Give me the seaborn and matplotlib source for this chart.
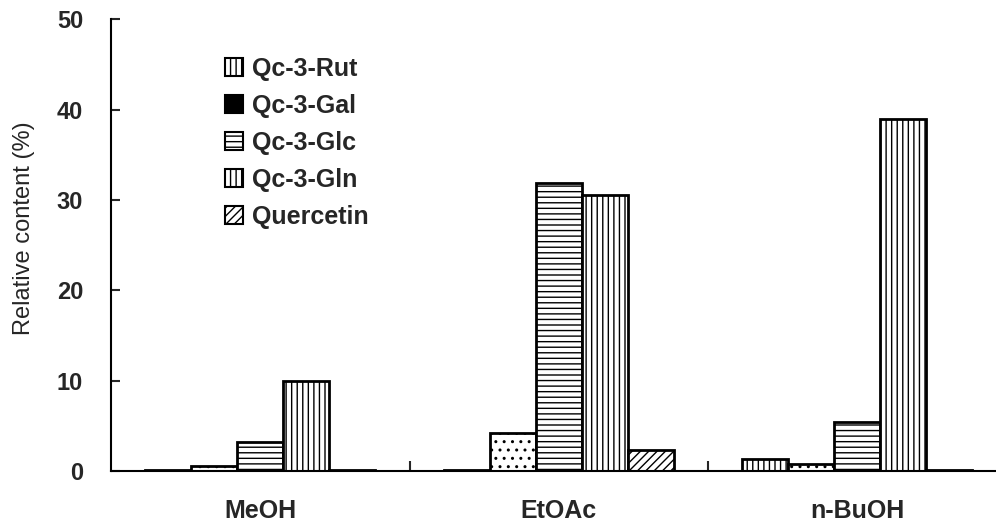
import matplotlib
matplotlib.use("Agg")
import matplotlib.pyplot as plt
from matplotlib.patches import Patch
import seaborn as sns
import pandas as pd

# Solvent fractions and compounds
solvents = ["MeOH", "EtOAc", "n-BuOH"]
compounds = ["Qc-3-Rut", "Qc-3-Gal", "Qc-3-Glc", "Qc-3-Gln", "Quercetin"]

# Relative content (%) per compound, in solvent order
qc3_rut = [0.15, 0.15, 1.3]
qc3_gal = [0.6, 4.2, 0.75]
qc3_glc = [3.2, 31.9, 5.4]
qc3_gln = [10.0, 30.5, 39.0]
quercetin = [0.15, 2.3, 0.15]

y_ticks = [0, 10, 20, 30, 40, 50]

series = {
    "Qc-3-Rut": qc3_rut,
    "Qc-3-Gal": qc3_gal,
    "Qc-3-Glc": qc3_glc,
    "Qc-3-Gln": qc3_gln,
    "Quercetin": quercetin,
}
rows = []
for comp in compounds:
    for solv, val in zip(solvents, series[comp]):
        rows.append({"Solvent": solv, "Compound": comp, "Content": val})
df = pd.DataFrame(rows)

sns.set_theme(style="white")
plt.rcParams["font.family"] = ["Liberation Sans", "DejaVu Sans"]
plt.rcParams["hatch.linewidth"] = 1.0
plt.rcParams["hatch.color"] = "black"

fig = plt.figure(figsize=(9.96, 5.26), dpi=100)
ax = fig.add_axes([111 / 996, 1 - 471 / 526, 1 - 111 / 996, (471 - 19.3) / 526])

sns.barplot(
    data=df, x="Solvent", y="Content", hue="Compound",
    order=solvents, hue_order=compounds,
    palette=["white"] * len(compounds), width=0.77,
    edgecolor="black", linewidth=2.0, errorbar=None, legend=False, ax=ax,
)

hatches = ["|||", "..", "---", "|||", "////"]
for container, h in zip(ax.containers, hatches):
    for bar in container:
        bar.set_hatch(h)
        bar.set_edgecolor("black")
        bar.set_facecolor("white")

ax.set_xlim(-0.5, -0.5 + (996 - 111) / 298.5)
ax.set_ylim(0, 50)
ax.set_yticks(y_ticks)
ax.set_yticklabels([str(t) for t in y_ticks], fontweight="bold", fontsize=17)
ax.set_xticks(range(len(solvents)))
ax.set_xticklabels(solvents, fontweight="bold", fontsize=18)
ax.set_xticks([0.5, 1.5], minor=True)
ax.tick_params(axis="x", which="major", length=0, pad=20)
ax.tick_params(axis="x", which="minor", direction="in", length=7, width=1.5, bottom=True)
ax.tick_params(axis="y", direction="in", length=6.5, width=1.5, left=True, pad=20)

ax.set_xlabel("")
ax.set_ylabel("Relative content (%)", fontsize=17, labelpad=16, y=0.538)

for side in ["top", "right"]:
    ax.spines[side].set_visible(False)
for side in ["left", "bottom"]:
    ax.spines[side].set_color("black")
    ax.spines[side].set_linewidth(1.5)

handles = [
    Patch(facecolor="white", edgecolor="black", hatch="|||", linewidth=1.5),
    Patch(facecolor="black", edgecolor="black", linewidth=1.5),
    Patch(facecolor="white", edgecolor="black", hatch="---", linewidth=1.5),
    Patch(facecolor="white", edgecolor="black", hatch="|||", linewidth=1.5),
    Patch(facecolor="white", edgecolor="black", hatch="////", linewidth=1.5),
]
leg = ax.legend(
    handles, compounds, loc="upper left",
    bbox_to_anchor=(225 / 996, 1 - 57 / 526), bbox_transform=fig.transFigure,
    frameon=False, borderpad=0, borderaxespad=0,
    handlelength=0.72, handleheight=0.72, handletextpad=0.35,
    labelspacing=0.52, prop={"weight": "bold", "size": 18},
)

fig.savefig("out.png", dpi=100)
